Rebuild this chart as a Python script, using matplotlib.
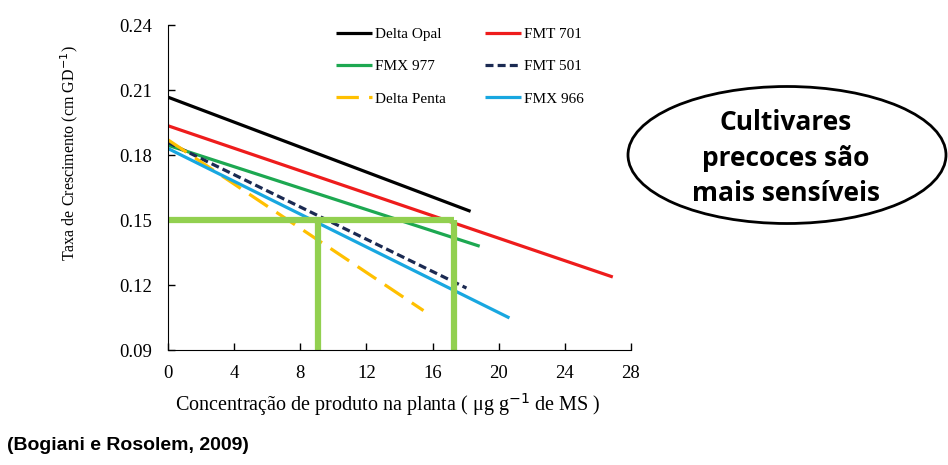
import matplotlib.pyplot as plt
from matplotlib.patches import Ellipse

# cultivares: start/end of each fitted line (x = conc., y = taxa)
names = ["Delta Opal", "FMT 701", "FMX 977", "FMT 501", "Delta Penta", "FMX 966"]
x_start = [0, 0, 0, 0, 0, 0]
x_end = [18.3, 26.9, 18.85, 18.05, 15.45, 20.65]
y_start = [0.2067, 0.1935, 0.1845, 0.1858, 0.1870, 0.1830]
y_end = [0.1540, 0.1237, 0.1379, 0.1186, 0.1082, 0.1048]
colors = ["#000000", "#EE1C1C", "#1DA851", "#1B2A52", "#FFC000", "#18A7E0"]
styles = ["-", "-", "-", (0, (2.5, 1.3)), (0, (7, 3.2)), "-"]

# green guide lines at 0.15
ref_y = 0.15
ref_x = [9.1, 17.3]

xticks = [0, 4, 8, 12, 16, 20, 24, 28]
yticks = [0.09, 0.12, 0.15, 0.18, 0.21, 0.24]

serif = "Liberation Serif"

fig = plt.figure(figsize=(9.48, 4.65), dpi=100)
ax = fig.add_axes([0.1772, 0.2473, 0.4884, 0.6989])

lines = {}
for i in range(len(names)):
    ln, = ax.plot([x_start[i], x_end[i]], [y_start[i], y_end[i]], color=colors[i],
                  lw=2.3, linestyle=styles[i], label=names[i], solid_capstyle="butt")
    lines[names[i]] = ln

gc = "#92D050"
ax.plot([0, ref_x[1]], [ref_y, ref_y], color=gc, lw=4.5, solid_capstyle="butt", clip_on=False)
for xv in ref_x:
    ax.plot([xv, xv], [ref_y, 0.09], color=gc, lw=4.5, solid_capstyle="butt", clip_on=False)

ax.set_xlim(0, 28)
ax.set_ylim(0.09, 0.24)
ax.set_xticks(xticks)
ax.set_yticks(yticks)
ax.set_xticklabels([str(v) for v in xticks], fontfamily=serif, fontsize=13.5)
ax.set_yticklabels(["%.2f" % v for v in yticks], fontfamily=serif, fontsize=13.5)
ax.tick_params(direction="in", length=5, width=1)
ax.tick_params(axis="x", pad=11)
ax.tick_params(axis="y", pad=11.5)
ax.spines["top"].set_visible(False)
ax.spines["right"].set_visible(False)

ax.set_xlabel("Concentração de produto na planta ( μg g$^{-1}$ de MS )", fontfamily=serif,
              fontsize=14.5)
ax.xaxis.set_label_coords(0.475, -0.126)
ax.set_ylabel("Taxa de Crescimento (cm GD$^{-1}$)", fontfamily=serif, fontsize=11.5)
ax.yaxis.set_label_coords(-0.19, 0.606)

order = ["Delta Opal", "FMX 977", "Delta Penta", "FMT 701", "FMT 501", "FMX 966"]
leg = ax.legend([lines[n] for n in order], order, ncol=2, loc="upper left",
                bbox_to_anchor=(0.333, 1.035), frameon=False, handlelength=2.35,
                handletextpad=0.2, columnspacing=2.55, labelspacing=1.22,
                prop={"family": serif, "size": 11})

fig.text(0.007, 0.041, "(Bogiani e Rosolem, 2009)", fontfamily="Liberation Sans",
         fontweight="bold", fontsize=14, ha="left", va="center")

ell = Ellipse((787 / 948, 1 - 155 / 465), 318 / 948, 137 / 465, transform=fig.transFigure,
              fill=False, edgecolor="black", lw=2)
fig.add_artist(ell)
fig.text(786 / 948, 1 - 158 / 465, "Cultivares\nprecoces são\nmais sensíveis", fontfamily="Open Sans",
         fontweight="bold", fontsize=19, ha="center", va="center", linespacing=1.42)

fig.savefig("out.png", dpi=100)
